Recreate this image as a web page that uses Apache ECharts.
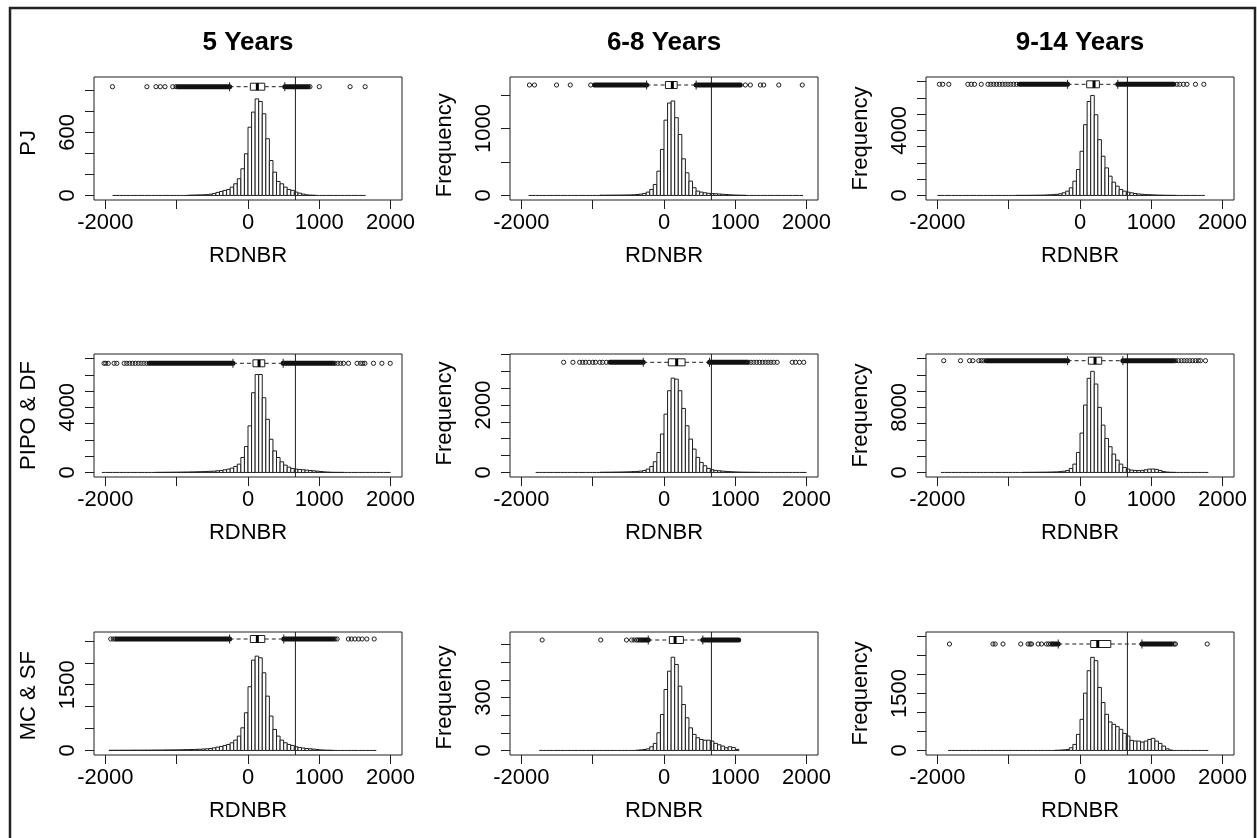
<!DOCTYPE html>
<html><head><meta charset="utf-8">
<script src="https://cdn.jsdelivr.net/npm/echarts@6/dist/echarts.min.js"></script>
<style>html,body{margin:0;padding:0;background:#fff}#c{width:1257px;height:838px}</style>
</head><body><div id="c"></div>
<script>
// ---------------- DATA ----------------
const BIN_WIDTH = 50;
const ageClasses = ['5 Years', '6-8 Years', '9-14 Years'];
const forestTypes = ['PJ', 'PIPO & DF', 'MC & SF'];
const xLabel = 'RDNBR';
const yLabel = 'Frequency';
const xTickLabels = [-2000, 0, 1000, 2000];
const thresholdRDNBR = 665;

// PJ, 5 years
const pj5_first = -850;
const pj5_counts = [2,3,4,5,6,8,12,19,29,38,48,57,79,111,159,254,397,650,794,920,895,778,540,333,222,133,111,79,57,48,32,22,13,6,3,2];
const pj5_range = [-1900, 1650];
const pj5_box = [-258, 33, 131, 235, 516];
const pj5_out = [-1901, -1418, -1291, -1230, -1164, -1056, -1010, 869, 1000, 1432, 1643];
const pj5_dense = [[-985, -258], [516, 845]];
const pj5_ylim = 1085, pj5_ystep = 200, pj5_ytop = 1000, pj5_ylabels = [0, 600];

// PJ, 6-8 years
const pj68_first = -900;
const pj68_counts = [3,3,4,4,5,5,6,7,8,10,14,20,30,50,90,164,363,687,1124,1380,1410,1160,910,547,338,214,115,65,50,40,32,28,25,22,18,14,10,7,5,3,2];
const pj68_range = [-1900, 1950];
const pj68_box = [-244, 20, 117, 185, 451];
const pj68_out = [-1887, -1817, -1507, -1315, -1028, 1141, 1211, 1352, 1399, 1610, 1939];
const pj68_dense = [[-975, -244], [451, 1070]];
const pj68_ylim = 1700, pj68_ystep = 500, pj68_ytop = 1500, pj68_ylabels = [0, 1000];

// PJ, 9-14 years
const pj914_first = -900;
const pj914_counts = [3,4,5,6,8,11,15,20,28,38,50,70,100,163,265,469,878,1592,2715,4350,5777,6144,4960,3430,2410,1694,1184,816,571,367,265,204,160,120,90,70,55,45,35,25,18,12,8,5,3];
const pj914_range = [-2000, 1750];
const pj914_box = [-174, 94, 197, 272, 530];
const pj914_out = [-1972, -1925, -1840, -1573, -1526, -1479, -1385, -1291, -1250, -1210, -1170, -1130, -1090, -1050, -1010, -970, -930, -890, 1360, 1400, 1450, 1500, 1620, 1737];
const pj914_dense = [[-850, -174], [530, 1315]];
const pj914_ylim = 7000, pj914_ystep = 1000, pj914_ytop = 7000, pj914_ylabels = [0, 4000];

// PIPO & DF, 5 years
const pipo5_first = -1300;
const pipo5_counts = [6,7,8,10,12,14,17,20,24,28,33,38,45,52,60,70,80,100,122,163,204,265,370,510,920,1590,2860,4900,6020,6020,4590,3265,2040,1325,918,653,449,326,245,204,184,163,143,122,100,80,55,35,20,10,6,4,3];
const pipo5_range = [-2050, 2000];
const pipo5_box = [-211, 70, 155, 235, 493];
const pipo5_out = [-2019, -1995, -1960, -1878, -1840, -1737, -1700, -1660, -1620, -1580, -1540, -1500, -1460, -1420, 1220, 1260, 1300, 1340, 1410, 1530, 1580, 1610, 1640, 1760, 1878, 1995];
const pipo5_dense = [[-1385, -211], [493, 1197]];
const pipo5_ylim = 7000, pipo5_ystep = 1000, pipo5_ytop = 7000, pipo5_ylabels = [0, 4000];

// PIPO & DF, 6-8 years
const pipo68_first = -900;
const pipo68_counts = [5,6,7,8,10,12,14,17,20,25,30,40,60,99,178,317,594,1140,1730,2425,2800,2770,2425,1900,1386,990,693,446,297,198,119,80,60,50,40,30,25,18,14,10,8,6,5,4,3];
const pipo68_range = [-1800, 2000];
const pipo68_box = [-291, 61, 178, 296, 638];
const pipo68_out = [-1408, -1277, -1183, -1140, -1100, -1050, -1000, -960, -900, -860, -808, 1180, 1220, 1260, 1300, 1340, 1380, 1420, 1460, 1500, 1540, 1587, 1798, 1845, 1900, 1960];
const pipo68_dense = [[-760, -291], [638, 1164]];
const pipo68_ylim = 3380, pipo68_ystep = 500, pipo68_ytop = 3500, pipo68_ylabels = [0, 2000];

// PIPO & DF, 9-14 years
const pipo914_first = -800;
const pipo914_counts = [10,12,15,18,22,28,35,45,55,70,100,150,246,492,1025,2460,4840,8290,11570,12430,10870,8000,5820,4180,3160,2256,1518,1025,615,410,287,250,230,260,330,410,420,380,250,100,40,15,8];
const pipo914_range = [-1950, 1800];
const pipo914_box = [-174, 117, 211, 305, 601];
const pipo914_out = [-1911, -1676, -1549, -1502, -1420, -1385, -1350, 1340, 1380, 1420, 1460, 1500, 1540, 1580, 1620, 1660, 1690, 1760];
const pipo914_dense = [[-1315, -174], [601, 1315]];
const pipo914_ylim = 14000, pipo914_ystep = 2000, pipo914_ytop = 14000, pipo914_ylabels = [0, 8000];

// MC & SF, 5 years
const mc5_first = -1950;
const mc5_counts = [3,4,3,4,5,4,5,6,5,6,7,7,8,9,9,10,11,12,13,14,16,18,20,22,25,28,32,38,45,60,76,91,114,137,175,236,327,517,860,1454,2062,2153,2116,1773,1240,784,480,327,236,175,137,114,84,68,55,45,38,30,20,12,8,5,3];
const mc5_range = [-1950, 1800];
const mc5_box = [-258, 33, 131, 235, 502];
const mc5_out = [-1925, -1890, -1860, 1220, 1250, 1408, 1450, 1500, 1550, 1600, 1667, 1770];
const mc5_dense = [[-1840, -258], [502, 1197]];
const mc5_ylim = 2600, mc5_ystep = 500, mc5_ytop = 2500, mc5_ylabels = [0, 1500];

// MC & SF, 6-8 years
const mc68_first = -400;
const mc68_counts = [1,3,5,9,21,40,100,204,345,449,528,487,364,260,185,128,91,72,62,58,58,53,40,32,25,15,21,17,6];
const mc68_range = [-1750, 1050];
const mc68_box = [-221, 75, 155, 272, 545];
const mc68_out = [-1709, -887, -526, -455, -420, -385, -360];
const mc68_dense = [[-338, -221], [545, 1047]];
const mc68_ylim = 645, mc68_ystep = 100, mc68_ytop = 600, mc68_ylabels = [0, 300];

// MC & SF, 9-14 years
const mc914_first = -350;
const mc914_counts = [4,8,15,26,70,159,424,820,1509,2100,2453,2365,1660,1262,953,750,688,627,556,450,380,265,247,247,220,247,290,318,247,185,115,44,10];
const mc914_range = [-1850, 1800];
const mc914_box = [-305, 150, 249, 432, 869];
const mc914_out = [-1831, -1221, -1190, -1080, -831, -728, -700, -680, -587, -540, -470, -440, -410, -390, 1320, 1338, 1784];
const mc914_dense = [[-375, -305], [869, 1291]];
const mc914_ylim = 3000, mc914_ystep = 500, mc914_ytop = 3000, mc914_ylabels = [0, 1500];

// ---------------- LAYOUT ----------------
const FONT = 'Liberation Sans, Arial, Helvetica, sans-serif';
const colLeft = [94, 510, 926];
const rowTop = [77, 354, 632];
const boxW = 308, boxH = 123;
const XLIM = [-2000, 2000];
const XEXT = 160; // 4% axis extension
const bpOffset = [9.7, 8, 7.3, 9.3, 8.3, 6.7, 7, 8, 12];
const INK = '#1e1e1e';

const panels = [
  [pj5_first, pj5_counts, pj5_range, pj5_box, pj5_out, pj5_dense, pj5_ylim, pj5_ystep, pj5_ytop, pj5_ylabels],
  [pj68_first, pj68_counts, pj68_range, pj68_box, pj68_out, pj68_dense, pj68_ylim, pj68_ystep, pj68_ytop, pj68_ylabels],
  [pj914_first, pj914_counts, pj914_range, pj914_box, pj914_out, pj914_dense, pj914_ylim, pj914_ystep, pj914_ytop, pj914_ylabels],
  [pipo5_first, pipo5_counts, pipo5_range, pipo5_box, pipo5_out, pipo5_dense, pipo5_ylim, pipo5_ystep, pipo5_ytop, pipo5_ylabels],
  [pipo68_first, pipo68_counts, pipo68_range, pipo68_box, pipo68_out, pipo68_dense, pipo68_ylim, pipo68_ystep, pipo68_ytop, pipo68_ylabels],
  [pipo914_first, pipo914_counts, pipo914_range, pipo914_box, pipo914_out, pipo914_dense, pipo914_ylim, pipo914_ystep, pipo914_ytop, pipo914_ylabels],
  [mc5_first, mc5_counts, mc5_range, mc5_box, mc5_out, mc5_dense, mc5_ylim, mc5_ystep, mc5_ytop, mc5_ylabels],
  [mc68_first, mc68_counts, mc68_range, mc68_box, mc68_out, mc68_dense, mc68_ylim, mc68_ystep, mc68_ytop, mc68_ylabels],
  [mc914_first, mc914_counts, mc914_range, mc914_box, mc914_out, mc914_dense, mc914_ylim, mc914_ystep, mc914_ytop, mc914_ylabels]
];

function histBins(first, counts, range) {
  const out = [];
  for (let e = range[0]; e < range[1]; e += BIN_WIDTH) {
    const i = Math.round((e - first) / BIN_WIDTH);
    const c = (i >= 0 && i < counts.length) ? counts[i] : 0;
    out.push([e, e + BIN_WIDTH, c]);
  }
  return out;
}

function renderHist(params, api) {
  const x0 = api.value(0), x1 = api.value(1), c = api.value(2);
  const a = api.coord([x0, 0]), b = api.coord([x1, c]);
  if (!c) {
    return { type: 'line', shape: { x1: a[0], y1: a[1], x2: b[0], y2: a[1] }, style: { stroke: INK, lineWidth: 1 } };
  }
  return { type: 'rect', shape: { x: a[0], y: b[1], width: b[0] - a[0], height: a[1] - b[1] },
           style: { fill: '#fff', stroke: INK, lineWidth: 1 } };
}
function renderThreshold(params, api) {
  const cs = params.coordSys;
  const x = api.coord([api.value(0), 0])[0];
  return { type: 'line', shape: { x1: x, y1: cs.y, x2: x, y2: cs.y + cs.height }, style: { stroke: INK, lineWidth: 1 } };
}
function boxRenderer(off) {
  return function (params, api) {
    const cs = params.coordSys; const y = cs.y + off;
    const X = v => api.coord([v, 0])[0];
    const wlo = X(api.value(0)), q1 = X(api.value(1)), med = X(api.value(2)), q3 = X(api.value(3)), whi = X(api.value(4));
    const h = 3.5, sh = 4.5;
    const ls = { stroke: INK, lineWidth: 1 };
    return { type: 'group', children: [
      { type: 'line', shape: { x1: wlo, y1: y, x2: q1, y2: y }, style: Object.assign({ lineDash: [4, 3] }, ls) },
      { type: 'line', shape: { x1: q3, y1: y, x2: whi, y2: y }, style: Object.assign({ lineDash: [4, 3] }, ls) },
      { type: 'line', shape: { x1: wlo, y1: y - sh, x2: wlo, y2: y + sh }, style: ls },
      { type: 'line', shape: { x1: whi, y1: y - sh, x2: whi, y2: y + sh }, style: ls },
      { type: 'rect', shape: { x: q1, y: y - h, width: q3 - q1, height: 2 * h }, style: Object.assign({ fill: '#fff' }, ls) },
      { type: 'line', shape: { x1: med, y1: y - h, x2: med, y2: y + h }, style: { stroke: '#000', lineWidth: 3 } }
    ] };
  };
}
function denseRenderer(off) {
  return function (params, api) {
    const cs = params.coordSys; const y = cs.y + off;
    const a = api.coord([api.value(0), 0])[0], b = api.coord([api.value(1), 0])[0];
    return { type: 'line', shape: { x1: a, y1: y, x2: b, y2: y }, style: { stroke: '#111', lineWidth: 5, lineCap: 'round' } };
  };
}
function outlierRenderer(off) {
  return function (params, api) {
    const cs = params.coordSys; const y = cs.y + off;
    const x = api.coord([api.value(0), 0])[0];
    return { type: 'circle', shape: { cx: x, cy: y, r: 2.1 }, style: { fill: 'none', stroke: INK, lineWidth: 1 } };
  };
}

const grid = [], xAxis = [], yAxis = [], series = [];
panels.forEach((p, k) => {
  const [first, counts, range, box, outl, dense, M, ystep, ytop, ylabels] = p;
  const r = Math.floor(k / 3), c = k % 3;
  const L = colLeft[c], T = rowTop[r];
  const yLo = -0.04 * M, yHi = 1.04 * M, yTot = yHi - yLo;
  const xTot = (XLIM[1] - XLIM[0]) + 2 * XEXT;
  // box grid (data)
  const gb = grid.length;
  grid.push({ left: L, top: T, width: boxW, height: boxH, show: true, borderColor: INK, borderWidth: 1,
              backgroundColor: 'transparent', containLabel: false, outerBoundsMode: 'none' });
  xAxis.push({ gridIndex: gb, type: 'value', min: XLIM[0] - XEXT, max: XLIM[1] + XEXT, show: false });
  yAxis.push({ gridIndex: gb, type: 'value', min: yLo, max: yHi, show: false });
  // tick grid (axes)
  const gt = grid.length;
  const padX = boxW * XEXT / xTot;
  grid.push({ left: L + padX, width: boxW * (XLIM[1] - XLIM[0]) / xTot,
              top: T + boxH * (yHi - ytop) / yTot, height: boxH * ytop / yTot,
              show: false, containLabel: false, outerBoundsMode: 'none' });
  xAxis.push({ gridIndex: gt, type: 'value', min: XLIM[0], max: XLIM[1], interval: 1000,
    position: 'bottom', offset: boxH * (0 - yLo) / yTot,
    axisLine: { show: false, onZero: false }, splitLine: { show: false },
    axisTick: { show: true, length: 9, lineStyle: { color: INK, width: 1 } },
    axisLabel: { color: '#000', fontSize: 22, fontFamily: FONT, margin: 12,
      formatter: v => xTickLabels.indexOf(v) >= 0 ? String(v) : '' },
    name: xLabel, nameLocation: 'middle', nameGap: 45,
    nameTextStyle: { color: '#000', fontSize: 22, fontFamily: FONT } });
  yAxis.push({ gridIndex: gt, type: 'value', min: 0, max: ytop, interval: ystep,
    position: 'left', offset: padX,
    axisLine: { show: false, onZero: false }, splitLine: { show: false },
    axisTick: { show: true, length: 9, lineStyle: { color: INK, width: 1 } },
    axisLabel: { color: '#000', fontSize: 22, fontFamily: FONT, margin: 15, rotate: 90,
      formatter: v => ylabels.indexOf(v) >= 0 ? String(v) : '' },
    name: c === 0 ? forestTypes[r] : yLabel, nameLocation: 'middle', nameRotate: 90, nameGap: 54,
    nameTextStyle: { color: '#000', fontSize: 22, fontFamily: FONT } });
  // series
  series.push({ type: 'custom', xAxisIndex: gb, yAxisIndex: gb, z: 2, silent: true,
    renderItem: renderHist, data: histBins(first, counts, range) });
  series.push({ type: 'custom', xAxisIndex: gb, yAxisIndex: gb, z: 3, silent: true,
    renderItem: renderThreshold, data: [[thresholdRDNBR, 0]] });
  series.push({ type: 'custom', xAxisIndex: gb, yAxisIndex: gb, z: 4, silent: true,
    renderItem: denseRenderer(bpOffset[k]), data: dense });
  series.push({ type: 'custom', xAxisIndex: gb, yAxisIndex: gb, z: 4, silent: true,
    renderItem: outlierRenderer(bpOffset[k]), data: outl.map(v => [v, 0]) });
  series.push({ type: 'custom', xAxisIndex: gb, yAxisIndex: gb, z: 5, silent: true,
    renderItem: boxRenderer(bpOffset[k]), data: [box] });
});

const titles = ageClasses.map((t, c) => ({
  text: t, left: colLeft[c] + boxW / 2, top: 30, textAlign: 'center', padding: 0,
  textStyle: { fontSize: 26, fontWeight: 'bold', color: '#000', fontFamily: FONT }
}));

const chart = echarts.init(document.getElementById('c'), null, { renderer: 'canvas' });
chart.setOption({
  animation: false,
  backgroundColor: '#fff',
  title: titles,
  grid, xAxis, yAxis, series,
  graphic: [{ type: 'rect', shape: { x: 10, y: 8, width: 1245, height: 870 }, silent: true,
              style: { fill: 'none', stroke: '#222', lineWidth: 2.5 }, z: 100 }]
});
</script></body></html>
